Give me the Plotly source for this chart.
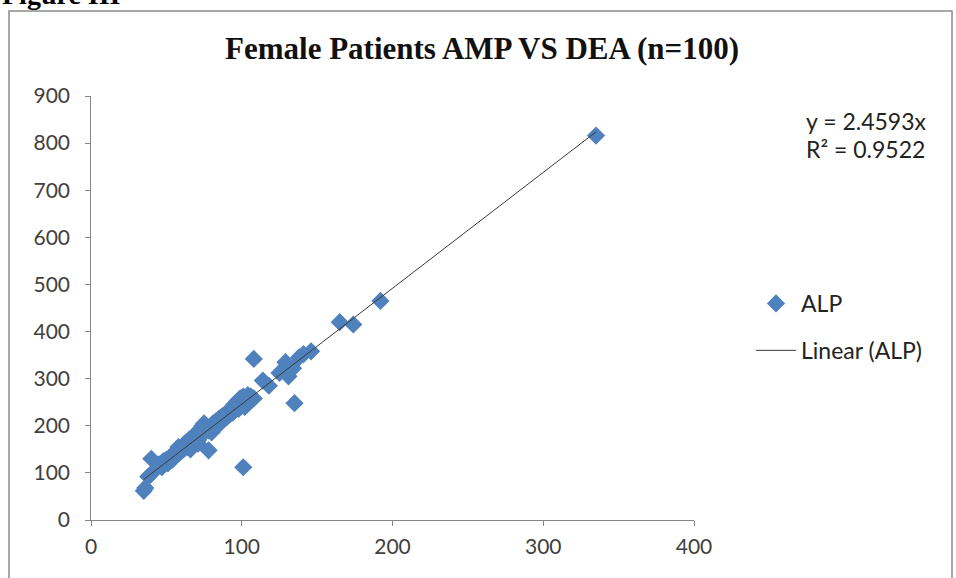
import plotly.graph_objects as go

# AMP (x) vs DEA (y)
amp = [335, 192, 174, 165, 146, 141, 138, 135, 134, 131, 129, 127, 125, 130, 118, 114, 108, 101, 78, 40, 35, 36, 38, 40,
       45, 47, 48, 50, 51, 52, 53, 54, 55, 56, 57, 58, 58, 59, 60, 61, 62, 62, 63, 64, 65, 65, 66, 67, 67, 68,
       69, 69, 70, 70, 71, 72, 72, 73, 73, 74, 74, 75, 75, 76, 77, 78, 79, 80, 80, 81, 82, 83, 84, 85, 86, 87,
       88, 89, 90, 91, 92, 93, 94, 95, 96, 97, 98, 99, 100, 101, 102, 103, 104, 105, 106, 108, 66, 71, 84, 95]
dea = [816, 465, 415, 420, 358, 352, 345, 248, 322, 305, 335, 318, 312, 328, 285, 296, 342, 112, 148, 130, 62, 68, 92, 98,
       118, 112, 125, 128, 120, 132, 135, 128, 140, 138, 148, 142, 155, 150, 146, 158, 152, 160, 165, 155, 162, 170, 158, 168, 175, 172,
       165, 180, 176, 185, 170, 190, 178, 195, 182, 200, 186, 192, 205, 188, 198, 190, 195, 186, 200, 205, 196, 210, 204, 215, 208, 220,
       214, 225, 218, 230, 224, 235, 228, 245, 240, 252, 236, 258, 248, 262, 240, 255, 265, 250, 262, 258, 150, 162, 200, 232]

slope = 2.4593
r2 = 0.9522
title_text = "Female Patients AMP VS DEA (n=100)"
x_ticks = [0, 100, 200, 300, 400]
y_ticks = [0, 100, 200, 300, 400, 500, 600, 700, 800, 900]

W, H = 956, 578
def px(x):
    return x / W
def py(y):
    return 1 - y / H

xmin, xmax = min(amp), max(amp)
trend_x = [xmin, xmax]
trend_y = [slope * v for v in trend_x]

fig = go.Figure()
fig.add_trace(go.Scatter(
    x=amp, y=dea, mode="markers", name="ALP", legendgroup="a",
    marker=dict(symbol="diamond", size=14, color="#4F81BD", line=dict(width=0)),
))
fig.add_trace(go.Scatter(
    x=trend_x, y=trend_y, mode="lines", name="Linear (ALP)", legendgroup="b",
    line=dict(color="#3a3a3a", width=1),
))

sans = "Lato, Open Sans, sans-serif"
serif = "Liberation Serif, Times New Roman, serif"
tick_font = dict(family=sans, size=21, color="#404040")
fig.update_layout(
    template="none",
    width=W, height=H,
    margin=dict(l=0, r=0, t=0, b=0, pad=0, autoexpand=False),
    paper_bgcolor="white", plot_bgcolor="white",
    title=dict(text="<b>" + title_text + "</b>", x=px(482), xanchor="center",
               y=py(48), yanchor="middle",
               font=dict(family=serif, size=31, color="#111111")),
    xaxis=dict(domain=[px(91), px(694)], range=[0, 400], tickvals=x_ticks, automargin=False,
               showgrid=False, zeroline=False, showline=True, linecolor="#868686", linewidth=1,
               ticks="outside", ticklen=5, tickcolor="#868686", tickfont=tick_font,
               ticklabelstandoff=3, anchor="y"),
    yaxis=dict(domain=[py(520), py(96)], range=[0, 900], tickvals=y_ticks,
               ticktext=[str(v) + "\u00a0\u00a0" for v in y_ticks], automargin=False,
               showgrid=False, zeroline=False, showline=True, linecolor="#868686", linewidth=1,
               ticks="outside", ticklen=5, tickcolor="#868686", tickfont=tick_font,
               anchor="x"),
    legend=dict(x=px(751), y=py(282), xanchor="left", yanchor="top",
                font=dict(family=sans, size=23, color="#222222"),
                tracegroupgap=14, bgcolor="rgba(0,0,0,0)", borderwidth=0, itemwidth=40),
    showlegend=True,
)

fig.add_annotation(xref="paper", yref="paper", x=px(804), y=py(121), xanchor="left", yanchor="middle",
                   text="y = %.4fx" % slope, showarrow=False,
                   font=dict(family=sans, size=23, color="#222222"))
fig.add_annotation(xref="paper", yref="paper", x=px(804), y=py(149), xanchor="left", yanchor="middle",
                   text="R² = %.4f" % r2, showarrow=False,
                   font=dict(family=sans, size=23, color="#222222"))
fig.add_annotation(xref="paper", yref="paper", x=0, y=py(12), xanchor="left", yanchor="bottom",
                   text="<b>Figure III</b>", showarrow=False,
                   font=dict(family=serif, size=28, color="#000000"))

# chart frame
fig.add_shape(type="rect", xref="paper", yref="paper", x0=px(9), x1=px(952), y0=py(600), y1=py(11),
              line=dict(color="#8c8c8c", width=1.5), fillcolor="rgba(0,0,0,0)", layer="below")

post = ("var h=document.documentElement,b=document.body;"
        "h.style.margin='0';h.style.padding='0';h.style.overflow='hidden';"
        "b.style.margin='0';b.style.padding='0';b.style.overflow='hidden';"
        "var g=document.getElementById('{plot_id}');g.style.position='fixed';g.style.left='0px';g.style.top='0px';")
fig.write_html("out.html", post_script=post, config={"displayModeBar": False})
